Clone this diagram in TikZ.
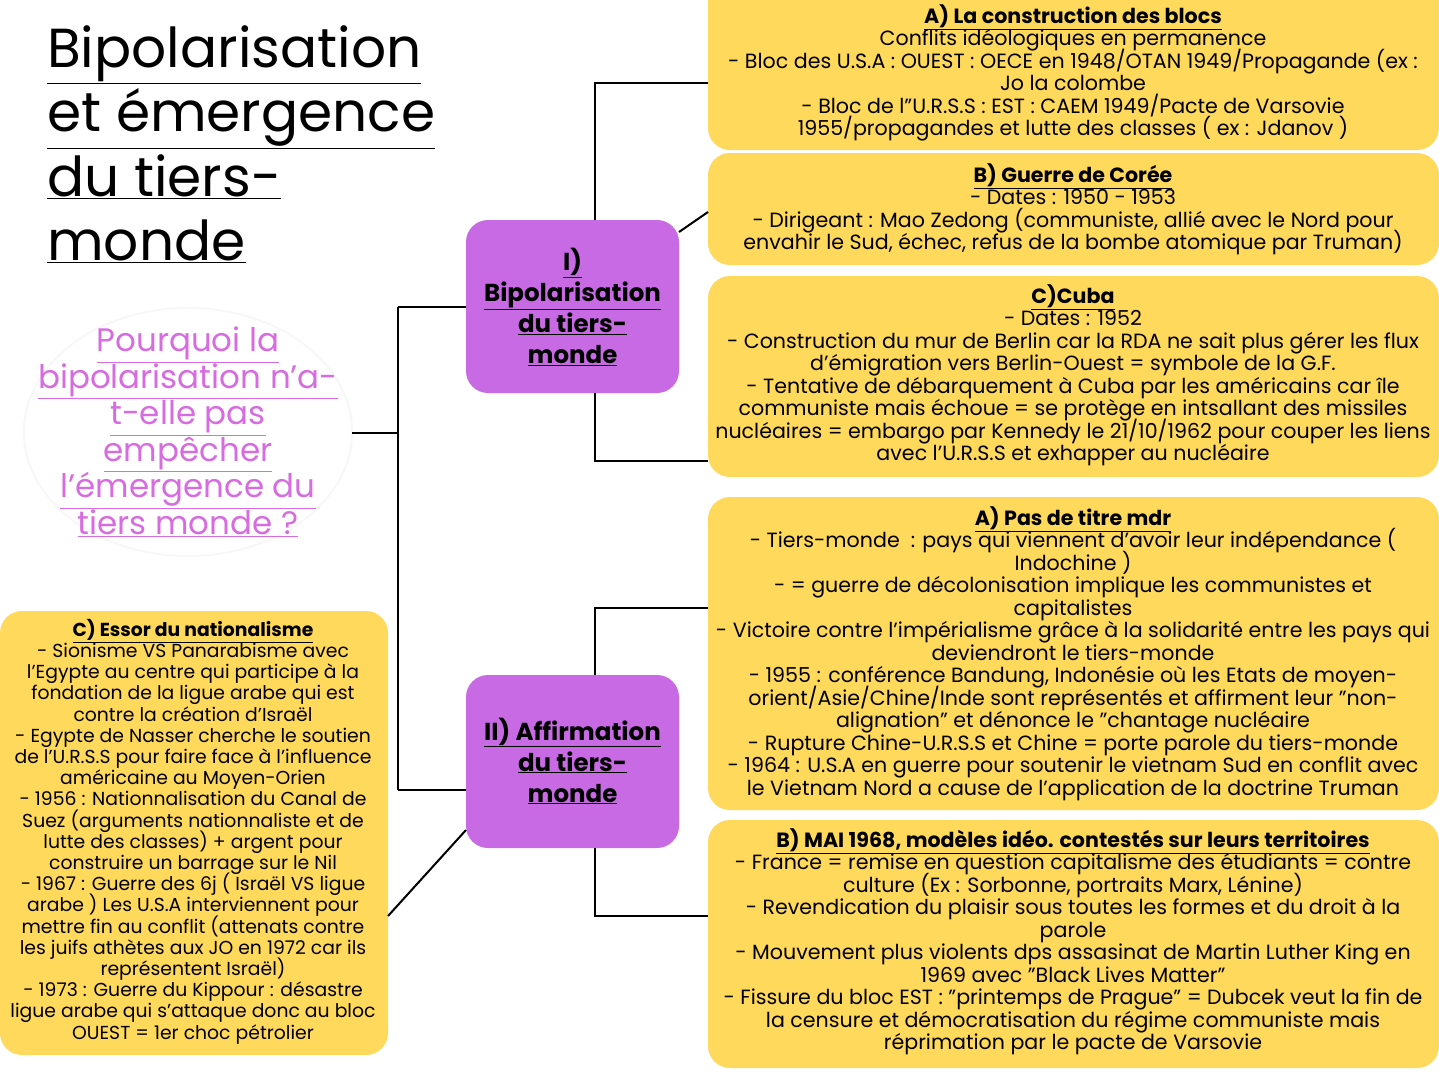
\documentclass[tikz,border=0pt]{standalone}
\usepackage{fontspec}
\setmainfont{Poppins}
\newcommand\myul[1]{\underline{#1}}
\newcommand\tightls{\lineskiplimit=-100pt\relax}
\definecolor{yel}{HTML}{FFD95C}
\definecolor{pur}{HTML}{C76AE3}
\definecolor{pink}{HTML}{D76BE0}
\begin{document}
\begin{tikzpicture}[x=1pt,y=-1pt,
  ybox/.style={fill=yel,rounded corners=22pt},
  pbox/.style={fill=pur,rounded corners=22pt},
  btxt/.style={align=center,font=\fontsize{20.6}{22.5}\selectfont\tightls,inner sep=0},
  con/.style={line width=2pt}]
\useasboundingbox[fill=white] (0,0) rectangle (1439,1080);
% boxes
\fill[ybox] (708,-20) rectangle (1439,150);
\fill[ybox] (708,153) rectangle (1439,265);
\fill[ybox] (708,276) rectangle (1439,477);
\fill[ybox] (708,497) rectangle (1439,810);
\fill[ybox] (708,820) rectangle (1439,1068);
\fill[ybox] (0,611) rectangle (388,1055);
\fill[pbox] (466,220) rectangle (679,393);
\fill[pbox] (466,675) rectangle (679,848);
\fill[white!97!black] (188,432) ellipse (165 and 125);
\fill[white] (188,432) ellipse (163 and 123);
% nodes
\coordinate (circR) at (352,433);
\coordinate (p1L) at (466,307);
\coordinate (p2L) at (466,790);
\coordinate (aL) at (708,83);
\coordinate (cL) at (708,461);
\coordinate (d1L) at (708,608);
\coordinate (d2L) at (708,916);
\coordinate (p1T) at (595,220);
\coordinate (p1B) at (595,393);
\coordinate (p2T) at (595,675);
\coordinate (p2B) at (595,848);
\draw[con] (circR) -- (398,433) (398,307) -- (398,790);
\draw[con] (398,307) -- (p1L) (398,790) -- (p2L);
\draw[con] (p1T) -- (595,83) -- (aL);
\draw[con] (p1B) -- (595,461) -- (cL);
\draw[con] (679,232) -- (708,212);
\draw[con] (p2T) -- (595,608) -- (d1L);
\draw[con] (p2B) -- (595,916) -- (d2L);
\draw[con] (466,830) -- (388,916);
% title
\node[anchor=north west,align=left,inner sep=0,font=\fontsize{55}{64.5}\selectfont] (title) at (47,25)
 {\myul{Bipolarisation}\\\myul{et émergence}\\\myul{du tiers-}\\\myul{monde}};
\node[align=center,inner sep=0,text=pink,font=\fontsize{32.5}{36.5}\selectfont] (q) at (188,432)
 {\myul{Pourquoi la}\\\myul{bipolarisation n'a-}\\\myul{t-elle pas}\\\myul{empêcher}\\\myul{l'émergence du}\\\myul{tiers monde ?}};
\node[align=center,inner sep=0,font=\bfseries\fontsize{24.5}{31}\selectfont] (p1) at (572.5,307)
 {\myul{I)}\\\myul{Bipolarisation}\\\myul{du tiers-}\\\myul{monde}};
\node[align=center,inner sep=0,font=\bfseries\fontsize{24.5}{31}\selectfont] (p2) at (572.5,761)
 {\myul{II) Affirmation}\\\myul{du tiers-}\\\myul{monde}};
% texts
\node[btxt,anchor=north] (ta) at (1073,4) {\textbf{\myul{A) La construction des blocs}}\\
Conflits idéologiques en permanence\\
- Bloc des U.S.A : OUEST : OECE en 1948/OTAN 1949/Propagande (ex :\\
Jo la colombe\\
- Bloc de l"U.R.S.S : EST : CAEM 1949/Pacte de Varsovie\\
1955/propagandes et lutte des classes ( ex : Jdanov )};
\node[btxt,anchor=north] (tb) at (1073,163) {\textbf{\myul{B) Guerre de Corée}}\\
- Dates : 1950 - 1953\\
- Dirigeant : Mao Zedong (communiste, allié avec le Nord pour\\
envahir le Sud, échec, refus de la bombe atomique par Truman)};
\node[btxt,anchor=north] (tc) at (1073,284) {\textbf{\myul{C)Cuba}}\\
- Dates : 1952\\
- Construction du mur de Berlin car la RDA ne sait plus gérer les flux\\
d'émigration vers Berlin-Ouest = symbole de la G.F.\\
- Tentative de débarquement à Cuba par les américains car île\\
communiste mais échoue = se protège en intsallant des missiles\\
nucléaires = embargo par Kennedy le 21/10/1962 pour couper les liens\\
avec l'U.R.S.S et exhapper au nucléaire};
\node[btxt,anchor=north] (td) at (1073,506) {\textbf{\myul{A) Pas de titre mdr}}\\
- Tiers-monde\ \ : pays qui viennent d'avoir leur indépendance (\\
Indochine )\\
- = guerre de décolonisation implique les communistes et\\
capitalistes\\
- Victoire contre l'impérialisme grâce à la solidarité entre les pays qui\\
deviendront le tiers-monde\\
- 1955 : conférence Bandung, Indonésie où les Etats de moyen-\\
orient/Asie/Chine/Inde sont représentés et affirment leur "non-\\
alignation" et dénonce le "chantage nucléaire\\
- Rupture Chine-U.R.S.S et Chine = porte parole du tiers-monde\\
- 1964 : U.S.A en guerre pour soutenir le vietnam Sud en conflit avec\\
le Vietnam Nord a cause de l'application de la doctrine Truman};
\node[btxt,anchor=north] (te) at (1073,828) {\textbf{\myul{B) MAI 1968, modèles idéo. contestés sur leurs territoires}}\\
- France = remise en question capitalisme des étudiants = contre\\
culture (Ex : Sorbonne, portraits Marx, Lénine)\\
- Revendication du plaisir sous toutes les formes et du droit à la\\
parole\\
- Mouvement plus violents dps assasinat de Martin Luther King en\\
1969 avec "Black Lives Matter"\\
- Fissure du bloc EST : "printemps de Prague" = Dubcek veut la fin de\\
la censure et démocratisation du régime communiste mais\\
réprimation par le pacte de Varsovie};
\node[btxt,anchor=north,font=\fontsize{18.8}{21.2}\selectfont\tightls] (tf) at (193,619) {\textbf{\myul{C) Essor du nationalisme}}\\
- Sionisme VS Panarabisme avec\\
l'Egypte au centre qui participe à la\\
fondation de la ligue arabe qui est\\
contre la création d'Israël\\
- Egypte de Nasser cherche le soutien\\
de l'U.R.S.S pour faire face à l'influence\\
américaine au Moyen-Orien\\
- 1956 : Nationnalisation du Canal de\\
Suez (arguments nationnaliste et de\\
lutte des classes) + argent pour\\
construire un barrage sur le Nil\\
- 1967 : Guerre des 6j ( Israël VS ligue\\
arabe ) Les U.S.A interviennent pour\\
mettre fin au conflit (attenats contre\\
les juifs athètes aux JO en 1972 car ils\\
représentent Israël)\\
- 1973 : Guerre du Kippour : désastre\\
ligue arabe qui s'attaque donc au bloc\\
OUEST = 1er choc pétrolier};
\end{tikzpicture}
\end{document}
